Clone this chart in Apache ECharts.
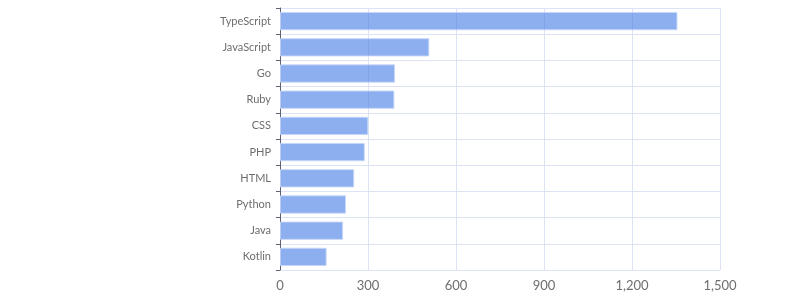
<!DOCTYPE html>
<html>
<head>
<meta charset="utf-8">
<script src="https://cdn.jsdelivr.net/npm/echarts@6/dist/echarts.min.js"></script>
<style>html,body{margin:0;padding:0;background:#fff}#c{width:800px;height:300px}</style>
</head>
<body>
<div id="c"></div>
<script>
const categories = ["TypeScript","JavaScript","Go","Ruby","CSS","PHP","HTML","Python","Java","Kotlin"];
const values = [1355, 509, 392, 390, 301, 289, 253, 225, 215, 159];
const xTicks = [0, 300, 600, 900, 1200, 1500];

const chart = echarts.init(document.getElementById('c'), null, {renderer: 'canvas'});
chart.setOption({
  animation: false,
  textStyle: {fontFamily: 'Lato, "Noto Sans", sans-serif'},
  grid: {left: 280, right: 80, top: 8, bottom: 30},
  xAxis: {
    type: 'value', min: xTicks[0], max: xTicks[xTicks.length-1], interval: 300,
    axisLine: {show: false}, axisTick: {show: false},
    axisLabel: {color: '#6e6e6e', fontSize: 13, margin: 9,
      formatter: v => v.toLocaleString('en-US')},
    splitLine: {lineStyle: {color: '#dde3f4', width: 1}}
  },
  yAxis: {
    type: 'category', inverse: true, data: categories,
    axisLine: {show: true, lineStyle: {color: '#5d6170', width: 1}},
    axisTick: {show: true, length: 4, lineStyle: {color: '#5d6170'}},
    axisLabel: {color: '#6e6e6e', fontSize: 11, margin: 9},
    splitLine: {show: true, lineStyle: {color: '#dde3f4', width: 1}}
  },
  series: [{
    type: 'bar', data: values, barCategoryGap: '30%',
    itemStyle: {color: 'rgba(61,118,228,0.58)', borderColor: 'rgba(200,215,248,0.9)', borderWidth: 1}
  }]
});
</script>
</body>
</html>
